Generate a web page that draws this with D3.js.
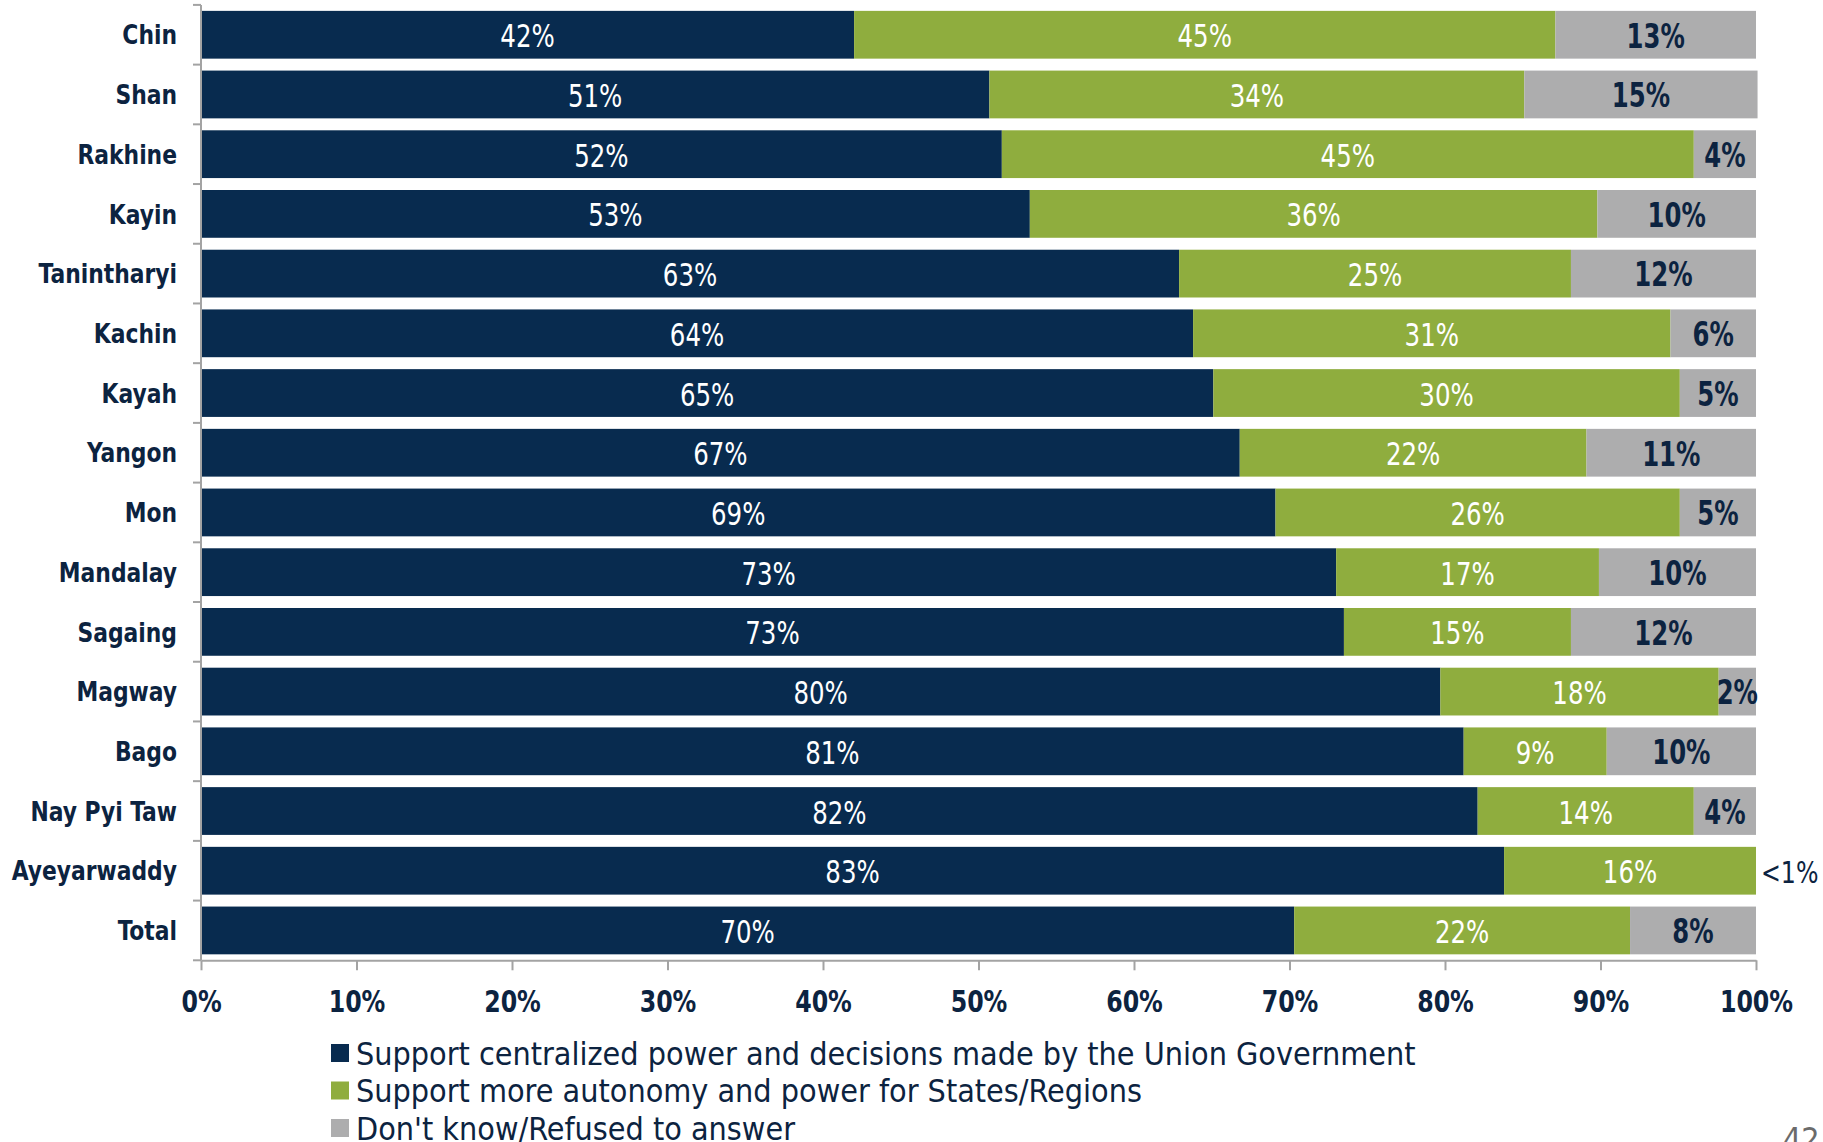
<!DOCTYPE html>
<html><head><meta charset="utf-8">
<script src="https://cdn.jsdelivr.net/npm/d3@7"></script>
<style>
html,body{margin:0;padding:0;background:#fff;}
svg{display:block;}
text{font-family:"DejaVu Sans Condensed","DejaVu Sans",sans-serif;}
</style></head>
<body><svg id="chart" width="1823" height="1142"></svg>
<script>
const categories = ["Chin","Shan","Rakhine","Kayin","Tanintharyi","Kachin","Kayah","Yangon","Mon","Mandalay","Sagaing","Magway","Bago","Nay Pyi Taw","Ayeyarwaddy","Total"];
const centralized = [42.0,50.7,51.5,53.3,62.9,63.8,65.1,66.8,69.1,73.0,73.5,79.7,81.2,82.1,83.8,70.3];
const autonomy    = [45.1,34.4,44.5,36.5,25.2,30.7,30.0,22.3,26.0,16.9,14.6,17.9,9.2,13.9,16.2,21.6];
const dontKnow    = [12.9,15.0,4.0,10.2,11.9,5.5,4.9,10.9,4.9,10.1,11.9,2.4,9.6,4.0,0.0,8.1];
const centralizedLabels = ["42%","51%","52%","53%","63%","64%","65%","67%","69%","73%","73%","80%","81%","82%","83%","70%"];
const autonomyLabels    = ["45%","34%","45%","36%","25%","31%","30%","22%","26%","17%","15%","18%","9%","14%","16%","22%"];
const dontKnowLabels    = ["13%","15%","4%","10%","12%","6%","5%","11%","5%","10%","12%","2%","10%","4%","<1%","8%"];
const seriesNames = ["Support centralized power and decisions made by the Union Government","Support more autonomy and power for States/Regions","Don't know/Refused to answer"];
const xTicks = [0,10,20,30,40,50,60,70,80,90,100];

const colors = ["#082b4f","#8fad3e","#adadae"];
const navy = "#0c2340";

const svg = d3.select("#chart");
const x = d3.scaleLinear().domain([0,100]).range([201,1756]);
const y = d3.scaleBand().domain(categories).range([4.9,960.3]).paddingInner(0.2).paddingOuter(0.1);

function label(px, py, txt, o) {
  return svg.append("text")
    .attr("transform", `translate(${px},${py}) scale(${o.sx},1)`)
    .attr("dy", o.dy || "0.36em")
    .attr("text-anchor", o.anchor || "start")
    .attr("font-size", o.size)
    .attr("font-weight", o.weight || "normal")
    .attr("fill", o.fill)
    .text(txt);
}

const series = [centralized, autonomy, dontKnow];
const labels = [centralizedLabels, autonomyLabels, dontKnowLabels];

// bars
categories.forEach((c,i)=>{
  let acc = 0;
  series.forEach((s,k)=>{
    const v = s[i];
    const x0 = x(acc), x1 = x(acc+v);
    if (v>0) {
      svg.append("rect").attr("x",x0).attr("y",y(c)).attr("width",x1-x0).attr("height",y.bandwidth())
        .attr("fill",colors[k]);
    }
    const lab = labels[k][i];
    const cy = y(c)+y.bandwidth()/2 + 1;
    if (k===2 && v===0) {
      label(x(100)+5, cy, lab, {sx:0.85, size:31, fill:navy});
    } else if (k===2) {
      label((x0+x1)/2, cy, lab, {sx:0.82, size:33, weight:"bold", fill:navy, anchor:"middle"});
    } else {
      label((x0+x1)/2, cy, lab, {sx:0.85, size:32, fill:"#ffffff", anchor:"middle"});
    }
    acc += v;
  });
});

// axes
const axisColor = "#a3a3a3";
const gY = svg.append("g");
gY.append("line").attr("x1",x(0)).attr("x2",x(0)).attr("y1",y.range()[0]).attr("y2",y.range()[1])
  .attr("stroke",axisColor).attr("stroke-width",2);
const boundaries = d3.range(categories.length+1).map(k=> y.range()[0] + k*y.step());
gY.selectAll("line.tk").data(boundaries).join("line").attr("class","tk")
  .attr("x1",x(0)-8).attr("x2",x(0)).attr("y1",d=>d).attr("y2",d=>d)
  .attr("stroke",axisColor).attr("stroke-width",2);
categories.forEach(c=>{
  label(177, y(c)+y.bandwidth()/2, c, {sx:0.9, size:27, weight:"bold", fill:navy, anchor:"end"});
});

const gX = svg.append("g").attr("transform",`translate(0,${y.range()[1]})`);
const xAxis = d3.axisBottom(x).tickValues(xTicks).tickSize(10).tickSizeOuter(0).tickFormat(d=>d+"%");
gX.call(xAxis);
gX.select(".domain").attr("stroke",axisColor).attr("stroke-width",2);
gX.selectAll(".tick line").attr("stroke",axisColor).attr("stroke-width",2);
gX.selectAll(".tick text").attr("font-size",31).attr("font-weight","bold").attr("fill",navy)
  .attr("font-family",'"DejaVu Sans Condensed","DejaVu Sans",sans-serif')
  .attr("y",null).attr("dy","0.71em")
  .attr("transform","translate(0,30) scale(0.85,1)");

// legend
const legendY = [1053,1090.5,1128];
seriesNames.forEach((n,k)=>{
  svg.append("rect").attr("x",331).attr("y",legendY[k]-9).attr("width",18).attr("height",18).attr("fill",colors[k]);
  label(356, legendY[k], n, {sx:1.0, size:32, fill:navy});
});

// page number
svg.append("text").attr("x",1783).attr("y",1150).attr("font-size",32).attr("fill","#6b6b6b").text("42");
</script></body></html>
